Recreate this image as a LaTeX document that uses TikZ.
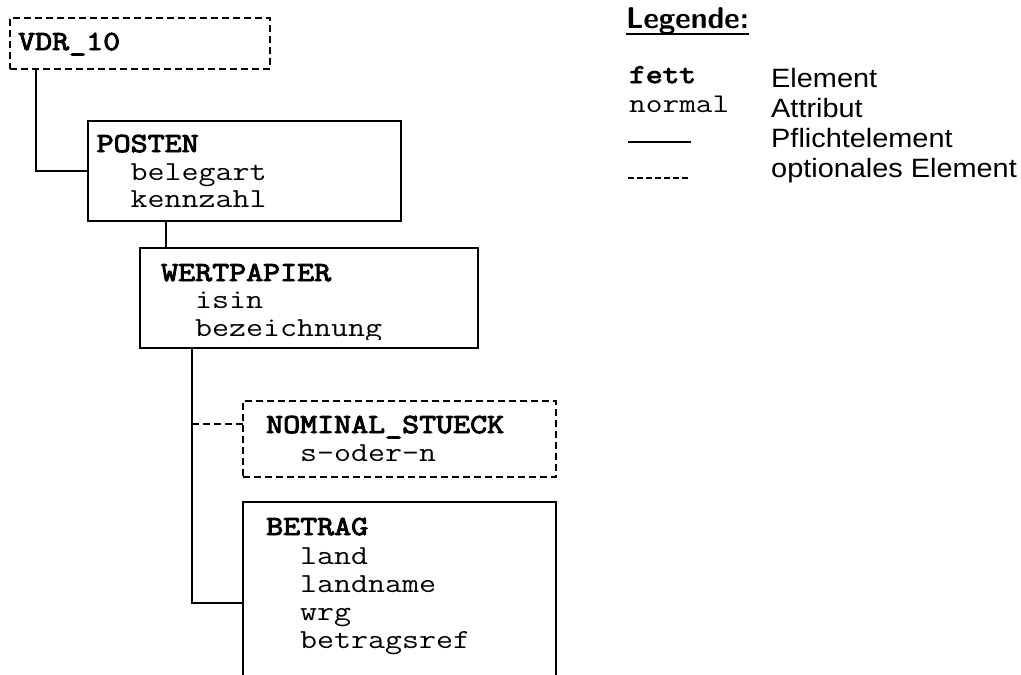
\documentclass[tikz,border=0pt]{standalone}
\usepackage{fontspec}
\setmainfont{Liberation Sans}
\newfontfamily\cour[FakeStretch=1.2]{Latin Modern Mono}
\newfontfamily\courb[FakeStretch=1.2,FakeBold=3.5]{Latin Modern Mono}
\newfontfamily\legfont[FakeStretch=1.09]{Liberation Sans}
\begin{document}
\begin{tikzpicture}[x=1pt,y=-1pt,
  solidbox/.style={draw, line width=1.3pt, inner sep=0pt, outer sep=0pt, fill=white},
  optbox/.style={draw, line width=2.3pt, dash pattern=on 7pt off 4pt, inner sep=0pt, outer sep=0pt, fill=white},
  conn/.style={line width=1.3pt},
  optconn/.style={line width=2.3pt, dash pattern=on 7pt off 4pt},
  elem/.style={font=\courb\fontsize{27.5}{28}\selectfont, inner sep=0pt, anchor=base west},
  attr/.style={font=\cour\fontsize{27.5}{28}\selectfont, inner sep=0pt, anchor=base west},
  legmono/.style={font=\cour\fontsize{27}{28}\selectfont, inner sep=0pt, anchor=base west},
  legmonob/.style={font=\courb\fontsize{27}{28}\selectfont, inner sep=0pt, anchor=base west},
  legtext/.style={font=\legfont\fontsize{26.5}{30}\selectfont, inner sep=0pt, anchor=base west},
  legtitle/.style={font=\sffamily\bfseries\fontsize{30}{30}\selectfont, inner sep=0pt, anchor=base west}]
\clip (0,0) rectangle (1021,675);
\fill[white] (0,0) rectangle (1021,675);

% boxes
\node[optbox, minimum width=260pt, minimum height=51pt] (vdr) at (140,43.5) {};
\node[solidbox, minimum width=313pt, minimum height=100pt] (posten) at (244.5,171) {};
\node[solidbox, minimum width=338pt, minimum height=100pt] (wert) at (309,298) {};
\node[optbox, minimum width=313pt, minimum height=76pt] (nominal) at (399.5,439) {};
\node[solidbox, minimum width=313pt, minimum height=202pt] (betrag) at (399.5,603) {};

% connectors
\coordinate (c1) at ([xshift=26pt]vdr.south west);
\draw[conn] (c1) |- (posten.west);
\coordinate (c2) at ([xshift=26pt]wert.north west);
\draw[conn] (c2 |- posten.south) -- (c2);
\coordinate (c3) at ([xshift=52pt]wert.south west);
\draw[conn] (c3) |- (betrag.west);
\coordinate (c4) at ([yshift=15pt]nominal.west);
\draw[optconn] (c3 |- c4) -- (c4);

% texts
\node[elem] (tvdr) at (18,50) {VDR\_10};
\node[elem] (tposten) at (96.5,152) {POSTEN};
\node[attr] (tbeleg) at (130.5,180) {belegart};
\node[attr] (tkenn) at (130.5,207) {kennzahl};
\node[elem] (twert) at (161,281) {WERTPAPIER};
\node[attr] (tisin) at (195,308) {isin};
\begin{scope}
\clip (141,249) rectangle (477,339);
\node[attr] (tbez) at (195,336) {bezeichnung};
\end{scope}
\node[elem] (tnom) at (266,433) {NOMINAL\_STUECK};
\node[attr] (tson) at (300,461) {s-oder-n};
\node[elem] (tbetrag) at (266,535) {BETRAG};
\node[attr] (tland) at (300,564) {land};
\node[attr] (tlandn) at (300,592) {landname};
\node[attr] (twrg) at (300,620) {wrg};
\node[attr] (tbref) at (300,648) {betragsref};

% legend
\node[legtitle] (leg) at (626,28) {Legende:};
\draw[line width=2.5pt] ([yshift=-6pt]leg.base west) -- ([yshift=-6pt]leg.base east);
\node[legmonob] (lfett) at (629,83) {fett};
\node[legmono] (lnormal) at (629,112) {normal};
\coordinate (ls1) at (628,142);
\coordinate (ls2) at (691,142);
\draw[line width=1.2pt] (ls1) -- (ls2);
\coordinate (ld1) at (628,178);
\coordinate (ld2) at (691,178);
\draw[line width=2pt, dash pattern=on 6pt off 3pt] (ld1) -- (ld2);
\node[legtext] (lelem) at (771,87) {Element};
\node[legtext] (lattr) at (771,117) {Attribut};
\node[legtext] (lpfl) at (771,147) {Pflichtelement};
\node[legtext] (lopt) at (771,177) {optionales Element};
\end{tikzpicture}
\end{document}
